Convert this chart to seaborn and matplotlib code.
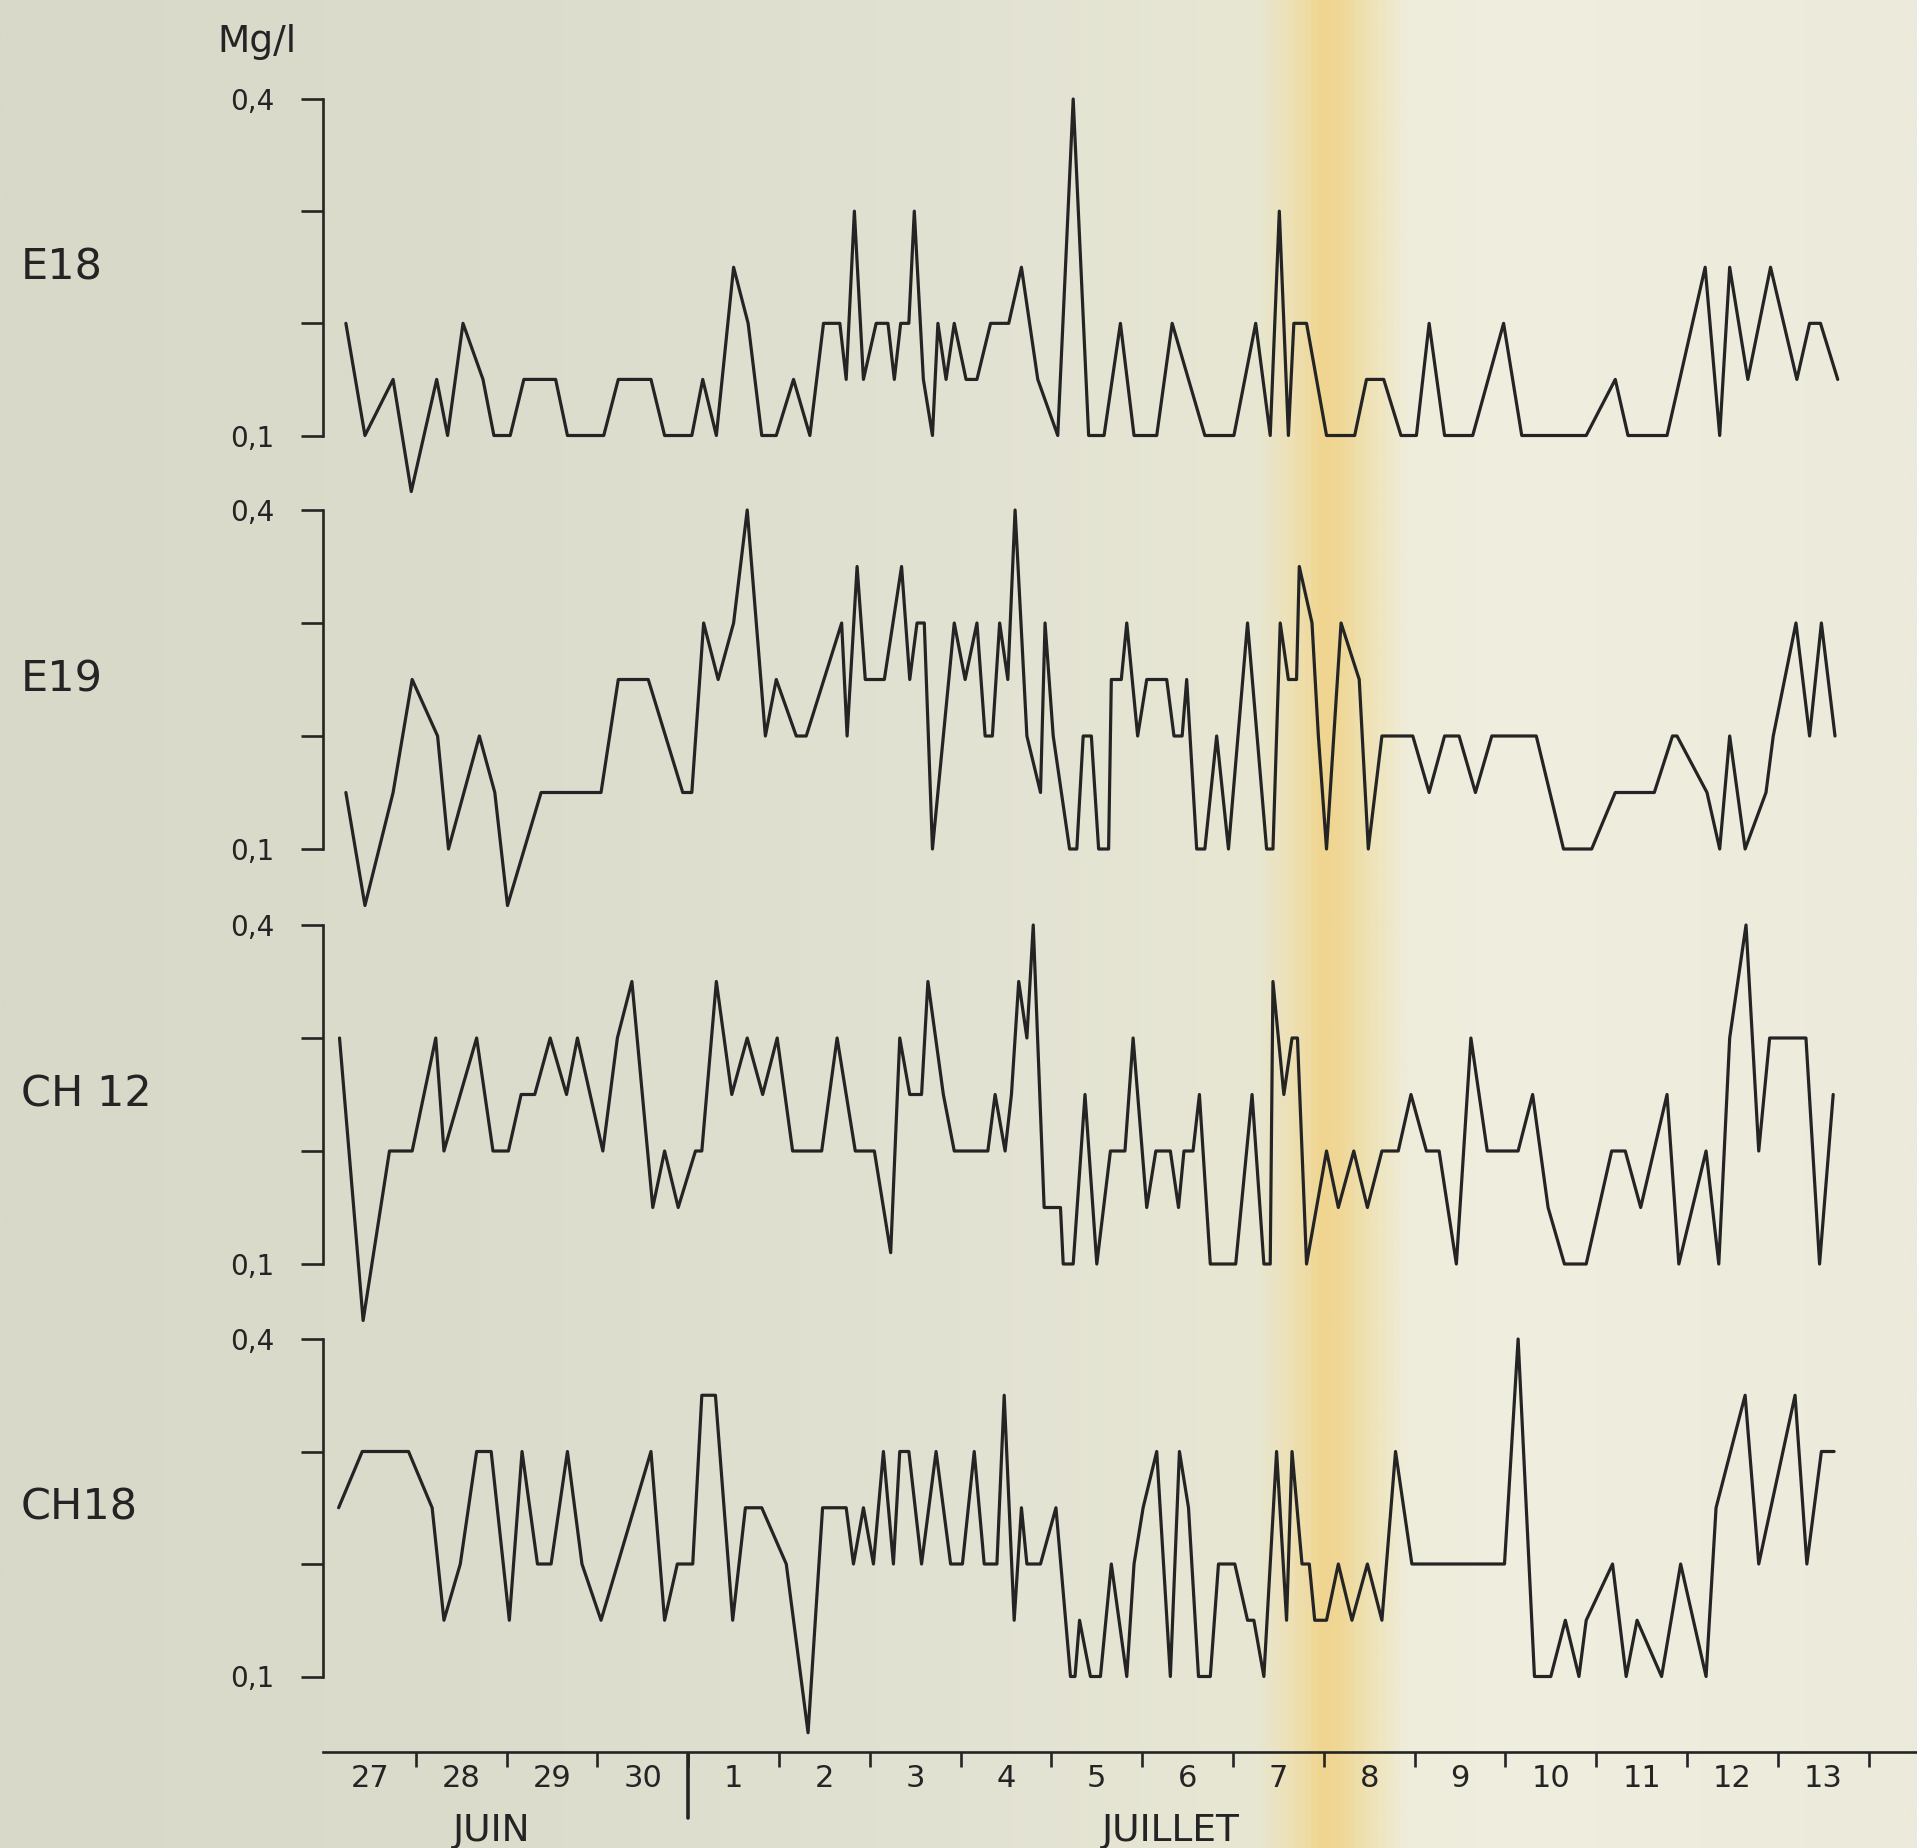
import numpy as np
import matplotlib
matplotlib.use("Agg")
import matplotlib.pyplot as plt
from matplotlib.colors import LinearSegmentedColormap
import seaborn as sns

# time is counted in days from 27 June 00:00; values in mg/l
DAY_LABELS = ["27", "28", "29", "30", "1", "2", "3", "4", "5",
              "6", "7", "8", "9", "10", "11", "12", "13"]
MONTH_LABELS = ["JUIN", "JUILLET"]
SERIES_NAMES = ["E18", "E19", "CH 12", "CH18"]

E18_T = [0.23, 0.44, 0.75, 0.95, 1.23, 1.35, 1.52, 1.74, 1.86, 2.04,
         2.19, 2.54, 2.67, 3.07, 3.23, 3.59, 3.74, 4.04, 4.16, 4.31,
         4.50, 4.66, 4.81, 4.97, 5.16, 5.34, 5.49, 5.67, 5.74, 5.83,
         5.93, 6.07, 6.20, 6.27, 6.34, 6.43, 6.49, 6.59, 6.69, 6.75,
         6.84, 6.93, 7.06, 7.18, 7.33, 7.53, 7.67, 7.85, 8.07, 8.24,
         8.41, 8.58, 8.76, 8.91, 9.16, 9.33, 9.69, 10.01, 10.25, 10.41,
         10.51, 10.61, 10.67, 10.81, 11.03, 11.34, 11.47, 11.66, 11.85, 12.02,
         12.16, 12.33, 12.64, 12.98, 13.18, 13.89, 14.21, 14.35, 14.78, 15.20,
         15.36, 15.47, 15.67, 15.92, 16.21, 16.35, 16.47, 16.66]
E18_V = [0.2, 0.1, 0.15, 0.05, 0.15, 0.1, 0.2, 0.15, 0.1, 0.1,
         0.15, 0.15, 0.1, 0.1, 0.15, 0.15, 0.1, 0.1, 0.15, 0.1,
         0.25, 0.2, 0.1, 0.1, 0.15, 0.1, 0.2, 0.2, 0.15, 0.3,
         0.15, 0.2, 0.2, 0.15, 0.2, 0.2, 0.3, 0.15, 0.1, 0.2,
         0.15, 0.2, 0.15, 0.15, 0.2, 0.2, 0.25, 0.15, 0.1, 0.4,
         0.1, 0.1, 0.2, 0.1, 0.1, 0.2, 0.1, 0.1, 0.2, 0.1,
         0.3, 0.1, 0.2, 0.2, 0.1, 0.1, 0.15, 0.15, 0.1, 0.1,
         0.2, 0.1, 0.1, 0.2, 0.1, 0.1, 0.15, 0.1, 0.1, 0.25,
         0.1, 0.25, 0.15, 0.25, 0.15, 0.2, 0.2, 0.15]

E19_T = [0.23, 0.44, 0.75, 0.96, 1.24, 1.36, 1.70, 1.87, 2.01, 2.38,
         3.04, 3.23, 3.56, 3.94, 4.04, 4.17, 4.33, 4.50, 4.65, 4.85,
         4.97, 5.19, 5.30, 5.69, 5.75, 5.86, 5.95, 6.16, 6.35, 6.44,
         6.52, 6.60, 6.69, 6.93, 7.05, 7.18, 7.27, 7.35, 7.43, 7.52,
         7.60, 7.73, 7.88, 7.93, 8.02, 8.20, 8.28, 8.35, 8.44, 8.52,
         8.63, 8.66, 8.77, 8.83, 8.95, 9.05, 9.27, 9.35, 9.44, 9.49,
         9.60, 9.69, 9.82, 9.95, 10.16, 10.37, 10.44, 10.52, 10.61, 10.70,
         10.73, 10.87, 10.94, 11.03, 11.19, 11.39, 11.49, 11.64, 11.98, 12.16,
         12.33, 12.49, 12.67, 12.85, 13.34, 13.64, 13.95, 14.21, 14.64, 14.84,
         14.89, 15.22, 15.36, 15.47, 15.64, 15.87, 15.95, 16.20, 16.35, 16.48, 16.63]
E19_V = [0.15, 0.05, 0.15, 0.25, 0.2, 0.1, 0.2, 0.15, 0.05, 0.15,
         0.15, 0.25, 0.25, 0.15, 0.15, 0.3, 0.25, 0.3, 0.4, 0.2,
         0.25, 0.2, 0.2, 0.3, 0.2, 0.35, 0.25, 0.25, 0.35, 0.25,
         0.3, 0.3, 0.1, 0.3, 0.25, 0.3, 0.2, 0.2, 0.3, 0.25,
         0.4, 0.2, 0.15, 0.3, 0.2, 0.1, 0.1, 0.2, 0.2, 0.1,
         0.1, 0.25, 0.25, 0.3, 0.2, 0.25, 0.25, 0.2, 0.2, 0.25,
         0.1, 0.1, 0.2, 0.1, 0.3, 0.1, 0.1, 0.3, 0.25, 0.25,
         0.35, 0.3, 0.2, 0.1, 0.3, 0.25, 0.1, 0.2, 0.2, 0.15,
         0.2, 0.2, 0.15, 0.2, 0.2, 0.1, 0.1, 0.15, 0.15, 0.2,
         0.2, 0.15, 0.1, 0.2, 0.1, 0.15, 0.2, 0.3, 0.2, 0.3, 0.2]

CH12_T = [0.16, 0.42, 0.71, 0.96, 1.22, 1.31, 1.67, 1.85, 2.02, 2.16,
          2.31, 2.48, 2.66, 2.78, 3.06, 3.22, 3.38, 3.61, 3.74, 3.89,
          4.08, 4.15, 4.31, 4.48, 4.65, 4.82, 4.98, 5.15, 5.47, 5.64,
          5.84, 6.05, 6.23, 6.33, 6.44, 6.57, 6.64, 6.81, 6.93, 7.30,
          7.38, 7.49, 7.56, 7.64, 7.73, 7.80, 7.92, 8.10, 8.13, 8.24,
          8.37, 8.50, 8.65, 8.81, 8.90, 9.05, 9.15, 9.31, 9.40, 9.46,
          9.56, 9.63, 9.75, 10.03, 10.21, 10.34, 10.41, 10.44, 10.56, 10.65,
          10.71, 10.81, 11.03, 11.16, 11.33, 11.48, 11.64, 11.82, 11.96, 12.13,
          12.27, 12.46, 12.62, 12.80, 13.14, 13.30, 13.47, 13.65, 13.89, 14.17,
          14.32, 14.49, 14.78, 14.91, 15.21, 15.35, 15.47, 15.65, 15.79, 15.91,
          16.31, 16.46, 16.61]
CH12_V = [0.3, 0.05, 0.2, 0.2, 0.3, 0.2, 0.3, 0.2, 0.2, 0.25,
          0.25, 0.3, 0.25, 0.3, 0.2, 0.3, 0.35, 0.15, 0.2, 0.15,
          0.2, 0.2, 0.35, 0.25, 0.3, 0.25, 0.3, 0.2, 0.2, 0.3,
          0.2, 0.2, 0.11, 0.3, 0.25, 0.25, 0.35, 0.25, 0.2, 0.2,
          0.25, 0.2, 0.25, 0.35, 0.3, 0.4, 0.15, 0.15, 0.1, 0.1,
          0.25, 0.1, 0.2, 0.2, 0.3, 0.15, 0.2, 0.2, 0.15, 0.2,
          0.2, 0.25, 0.1, 0.1, 0.25, 0.1, 0.1, 0.35, 0.25, 0.3,
          0.3, 0.1, 0.2, 0.15, 0.2, 0.15, 0.2, 0.2, 0.25, 0.2,
          0.2, 0.1, 0.3, 0.2, 0.2, 0.25, 0.15, 0.1, 0.1, 0.2,
          0.2, 0.15, 0.25, 0.1, 0.2, 0.1, 0.3, 0.4, 0.2, 0.3,
          0.3, 0.1, 0.25]

CH18_T = [0.15, 0.41, 0.92, 1.18, 1.31, 1.49, 1.67, 1.83, 2.03, 2.17,
          2.34, 2.49, 2.67, 2.83, 3.04, 3.59, 3.74, 3.88, 4.05, 4.15,
          4.30, 4.49, 4.63, 4.81, 5.08, 5.32, 5.48, 5.74, 5.82, 5.93,
          6.04, 6.15, 6.26, 6.33, 6.43, 6.57, 6.73, 6.89, 7.02, 7.15,
          7.26, 7.40, 7.48, 7.59, 7.67, 7.73, 7.88, 8.05, 8.21, 8.26,
          8.31, 8.43, 8.54, 8.66, 8.83, 8.91, 9.01, 9.16, 9.31, 9.41,
          9.51, 9.62, 9.75, 9.84, 10.02, 10.16, 10.23, 10.34, 10.48, 10.59,
          10.65, 10.76, 10.84, 10.90, 11.03, 11.16, 11.31, 11.48, 11.64, 11.79,
          11.97, 12.99, 13.14, 13.32, 13.50, 13.66, 13.81, 13.89, 14.18, 14.33,
          14.45, 14.72, 14.93, 15.21, 15.32, 15.64, 15.79, 16.19, 16.32, 16.48, 16.62]
CH18_V = [0.25, 0.3, 0.3, 0.25, 0.15, 0.2, 0.3, 0.3, 0.15, 0.3,
          0.2, 0.2, 0.3, 0.2, 0.15, 0.3, 0.15, 0.2, 0.2, 0.35,
          0.35, 0.15, 0.25, 0.25, 0.2, 0.05, 0.25, 0.25, 0.2, 0.25,
          0.2, 0.3, 0.2, 0.3, 0.3, 0.2, 0.3, 0.2, 0.2, 0.3,
          0.2, 0.2, 0.35, 0.15, 0.25, 0.2, 0.2, 0.25, 0.1, 0.1,
          0.15, 0.1, 0.1, 0.2, 0.1, 0.2, 0.25, 0.3, 0.1, 0.3,
          0.25, 0.1, 0.1, 0.2, 0.2, 0.15, 0.15, 0.1, 0.3, 0.15,
          0.3, 0.2, 0.2, 0.15, 0.15, 0.2, 0.15, 0.2, 0.15, 0.3,
          0.2, 0.2, 0.4, 0.1, 0.1, 0.15, 0.1, 0.15, 0.2, 0.1,
          0.15, 0.1, 0.2, 0.1, 0.25, 0.35, 0.2, 0.35, 0.2, 0.3, 0.3]

SERIES = [(E18_T, E18_V), (E19_T, E19_V), (CH12_T, CH12_V), (CH18_T, CH18_V)]

# ---- styling / layout ----
INK = "#242424"
W_PX, H_PX = 1917, 1848
X_LIM = (-0.022, 17.533)
Y_LIM = (0.04, 0.405)
# pixel rows (from top) of the 0.4 and 0.1 ticks for each strip
PANEL_ROWS = [(99, 435.5), (510, 849), (925, 1264), (1339, 1676.5)]
PAPER_STOPS = [(0.0, "#d9d9ca"), (0.25, "#dcdccd"), (0.5, "#e2e2d3"),
               (0.655, "#e8e7d4"), (0.675, "#ede0b4"), (0.69, "#f0d590"),
               (0.70, "#f0d796"), (0.715, "#eee2b6"), (0.735, "#eeecda"),
               (0.78, "#efeedf"), (1.0, "#ebeadb")]

sns.set_style("white")
plt.rcParams["font.family"] = ["DejaVu Sans"]

fig = plt.figure(figsize=(W_PX / 100, H_PX / 100), dpi=100)


def add_axes_px(left, top, right, bottom, **kw):
    return fig.add_axes([left / W_PX, 1 - bottom / H_PX,
                         (right - left) / W_PX, (bottom - top) / H_PX], **kw)


# scanned-paper background
bg = fig.add_axes([0, 0, 1, 1], zorder=-5)
paper = LinearSegmentedColormap.from_list("paper", PAPER_STOPS)
bg.imshow(np.linspace(0, 1, 800)[None, :], cmap=paper, aspect="auto",
          extent=(0, 1, 0, 1))
bg.set_axis_off()

for name, (t, v), (y04, y01) in zip(SERIES_NAMES, SERIES, PANEL_ROWS):
    s = (y01 - y04) / 0.3
    ax = add_axes_px(323, y04 - (Y_LIM[1] - 0.4) * s, W_PX,
                     y01 + (0.1 - Y_LIM[0]) * s)
    ax.set_facecolor("none")
    sns.lineplot(x=t, y=v, ax=ax, color=INK, linewidth=2.3,
                 estimator=None, sort=False)
    ax.set_xlim(X_LIM)
    ax.set_ylim(Y_LIM)
    sns.despine(ax=ax, bottom=True)
    ax.spines["left"].set_bounds(0.1, 0.4)
    ax.spines["left"].set_color(INK)
    ax.spines["left"].set_linewidth(1.9)
    ax.set_xticks([])
    ax.set_yticks([0.1, 0.2, 0.3, 0.4])
    ax.set_yticklabels(["0,1", "", "", "0,4"])
    ax.tick_params(axis="y", direction="out", length=16, width=1.9,
                   color=INK, labelcolor=INK, labelsize=20, pad=19, left=True)
    ax.set_xlabel("")
    ax.set_ylabel("")
    fig.text(21 / W_PX, 1 - (y04 + 0.15 * s) / H_PX, name, ha="left",
             va="center", fontsize=31, color=INK)

fig.text(257 / W_PX, 1 - 42 / H_PX, "Mg/l", ha="center", va="center",
         fontsize=27, color=INK)

# date scale along the bottom
axd = add_axes_px(323, 1752, W_PX, H_PX)
axd.set_facecolor("none")
axd.set_xlim(X_LIM)
axd.set_ylim(0, 1)
for side in ["left", "right", "bottom"]:
    axd.spines[side].set_visible(False)
axd.spines["top"].set_color(INK)
axd.spines["top"].set_linewidth(1.9)
axd.xaxis.set_ticks_position("top")
axd.set_xticks(np.arange(1, len(DAY_LABELS) + 1))
axd.tick_params(axis="x", direction="in", length=11, width=1.9, color=INK,
                labeltop=False, labelbottom=False)
axd.set_yticks([])
split = DAY_LABELS.index("1")
axd.axvline(split, ymin=1 - 66 / 96, ymax=1, color=INK, linewidth=2.6)
for i, lab in enumerate(DAY_LABELS):
    axd.text(i + 0.5, 0.72, lab, ha="center", va="center", fontsize=22,
             color=INK)
for lab, xpos in zip(MONTH_LABELS, [1.84, 9.32]):
    axd.text(xpos, 0.18, lab, ha="center", va="center", fontsize=27,
             color=INK)

fig.savefig("out.png", dpi=100)
